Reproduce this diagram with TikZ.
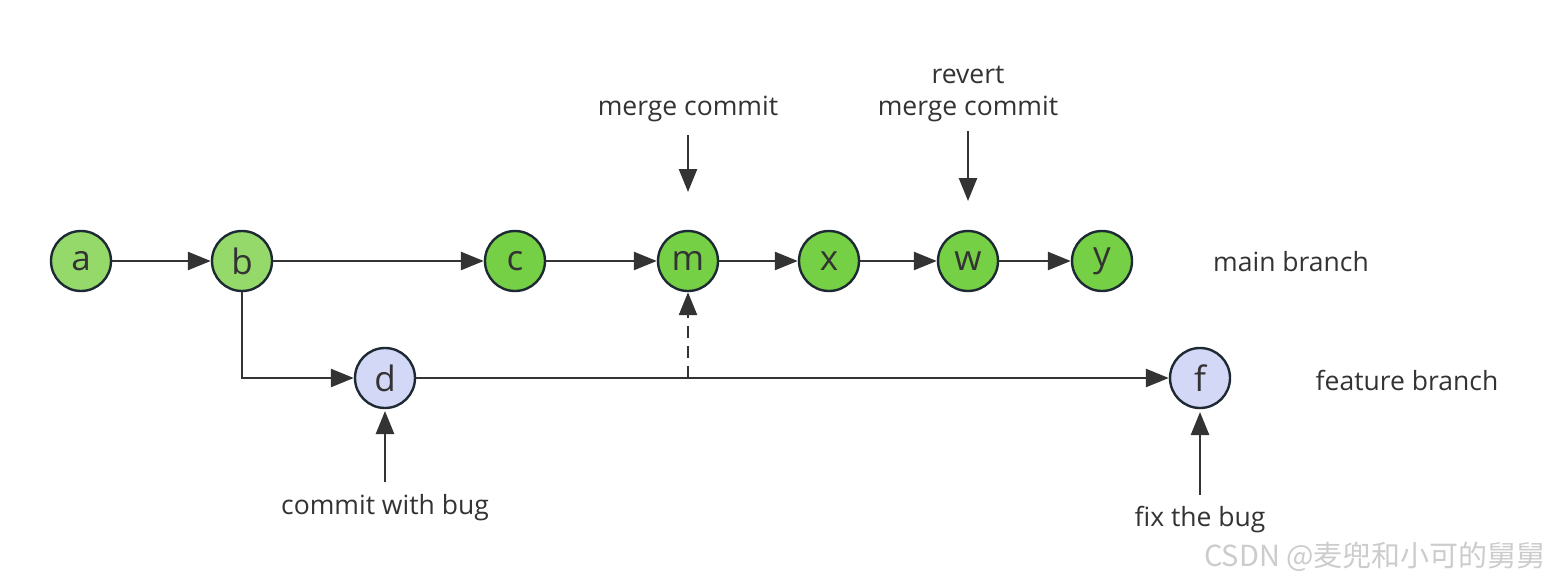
\documentclass[tikz,border=0pt]{standalone}
\usepackage{fontspec}
\setmainfont{Open Sans}
\newfontfamily\cjk{Noto Sans CJK SC}
\usetikzlibrary{arrows.meta}
\definecolor{lightg}{HTML}{95D96B}
\definecolor{darkg}{HTML}{76D045}
\definecolor{lav}{HTML}{D3D8F7}
\definecolor{ink}{HTML}{333333}
\definecolor{rim}{HTML}{1E2A33}
\begin{document}
\begin{tikzpicture}[x=1pt,y=-1pt,
  commit/.style={circle,draw=rim,line width=2.4pt,minimum size=60pt,inner sep=0pt,font=\fontsize{35}{35}\selectfont,text=ink},
  lg/.style={commit,fill=lightg},
  dg/.style={commit,fill=darkg},
  fb/.style={commit,fill=lav},
  lbl/.style={font=\fontsize{26.5}{32}\selectfont,text=ink,align=center,inner sep=0pt},
  conn/.style={draw=ink,line width=2.6pt,-{Triangle[length=23pt,width=18pt]}}]
\useasboundingbox (0,0) rectangle (1558,586);
\node[lg] (a) at (81,261) {a};
\node[lg] (b) at (242,261) {b};
\node[dg] (c) at (515,261) {c};
\node[dg] (m) at (688,261) {m};
\node[dg] (x) at (829,261) {x};
\node[dg] (w) at (968,261) {w};
\node[dg] (y) at (1102,261) {y};
\node[fb] (d) at (385,378) {d};
\node[fb] (f) at (1200,378) {f};
\node[lbl] (mainlbl) at (1291,262) {main branch};
\node[lbl] (featlbl) at (1407,380) {feature branch};
\node[lbl] (mclbl) at (688,109) {merge commit};
\node[lbl] (rvlbl) at (968,94) {revert\\merge commit};
\node[lbl] (buglbl) at (385,508) {commit with bug};
\node[lbl] (fixlbl) at (1200,520) {fix the bug};
\node[font=\cjk\fontsize{29}{29}\selectfont,text=black!20,inner sep=0pt] (wm) at (1375,557) {CSDN @麦兜和小可的舅舅};
\coordinate (mcs) at (688,135);
\coordinate (mce) at (688,192);
\coordinate (rvs) at (968,131);
\coordinate (rve) at (968,201);
\coordinate (bgs) at (385,482);
\coordinate (bge) at (385,411);
\coordinate (fxs) at (1200,495);
\coordinate (fxe) at (1200,412);
\coordinate (mj) at (688,378);
\draw[conn] (a) -- (b);
\draw[conn] (b) -- (c);
\draw[conn] (c) -- (m);
\draw[conn] (m) -- (x);
\draw[conn] (x) -- (w);
\draw[conn] (w) -- (y);
\draw[conn] (b) |- (d);
\draw[conn] (d) -- (f);
\draw[conn,dashed,dash pattern=on 12pt off 8pt] (mj) -- (m);
\draw[conn] (mcs) -- (mce);
\draw[conn] (rvs) -- (rve);
\draw[conn] (bgs) -- (bge);
\draw[conn] (fxs) -- (fxe);
\end{tikzpicture}
\end{document}
